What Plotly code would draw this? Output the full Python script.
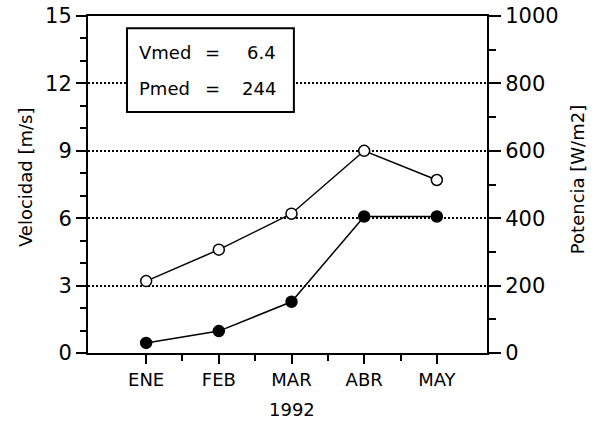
import plotly.graph_objects as go

months = ["ENE", "FEB", "MAR", "ABR", "MAY"]
month_pos = [1, 2, 3, 4, 5]
velocidad = [3.2, 4.6, 6.2, 9.0, 7.7]      # m/s, open circles, left axis
potencia = [30, 65, 152, 405, 405]          # W/m2, filled circles, right axis
vel_ticks = [0, 3, 6, 9, 12, 15]
pot_ticks = [0, 200, 400, 600, 800, 1000]
vmed = "6.4"
pmed = "244"
year = "1992"

FONT = "DejaVu Sans"
BLACK = "black"

fig = go.Figure()
fig.add_trace(go.Scatter(
    x=month_pos, y=velocidad, mode="lines+markers", yaxis="y",
    line=dict(color=BLACK, width=1.5),
    marker=dict(symbol="circle", size=11, color="white", line=dict(color=BLACK, width=1.5)),
    showlegend=False))
fig.add_trace(go.Scatter(
    x=month_pos, y=potencia, mode="lines+markers", yaxis="y2",
    line=dict(color=BLACK, width=1.5),
    marker=dict(symbol="circle", size=11, color=BLACK, line=dict(color=BLACK, width=1.5)),
    showlegend=False))

fig.update_layout(
    width=594, height=425,
    margin=dict(l=88, r=107, t=16, b=72, autoexpand=False),
    paper_bgcolor="white", plot_bgcolor="white",
    font=dict(family=FONT, color=BLACK),
    xaxis=dict(
        range=[0.2, 5.69], tickmode="array", tickvals=month_pos, ticktext=months,
        ticks="outside", ticklen=9, tickwidth=1.5, tickcolor=BLACK,
        minor=dict(tickvals=[1.5, 2.5, 3.5, 4.5], ticks="outside", ticklen=6,
                   tickwidth=1.5, tickcolor=BLACK, showgrid=False),
        showline=True, linecolor=BLACK, linewidth=2, mirror=True,
        showgrid=False, zeroline=False, automargin=False,
        tickfont=dict(size=18, family=FONT)),
    yaxis=dict(
        range=[0, 15], tickmode="array", tickvals=vel_ticks,
        ticks="outside", ticklen=10, tickwidth=1.5, tickcolor=BLACK,
        minor=dict(dtick=1, ticks="outside", ticklen=6, tickwidth=1.5,
                   tickcolor=BLACK, showgrid=False),
        showline=True, linecolor=BLACK, linewidth=2,
        showgrid=True, gridcolor=BLACK, gridwidth=1.5, griddash="2px,2px",
        zeroline=False, automargin=False, ticklabeloverflow="allow",
        tickfont=dict(size=21, family=FONT)),
    yaxis2=dict(
        range=[0, 1000], tickmode="array", tickvals=pot_ticks,
        overlaying="y", side="right",
        ticks="outside", ticklen=12, tickwidth=1.5, tickcolor=BLACK,
        minor=dict(dtick=100, ticks="outside", ticklen=7, tickwidth=1.5,
                   tickcolor=BLACK, showgrid=False),
        showline=True, linecolor=BLACK, linewidth=2,
        showgrid=False, zeroline=False, automargin=False, ticklabeloverflow="allow",
        tickfont=dict(size=21, family=FONT)),
)

# stats box
fig.add_shape(type="rect", xref="paper", yref="paper",
              x0=0.0977, x1=0.516, y0=0.715, y1=0.964,
              line=dict(color=BLACK, width=2), fillcolor="white", layer="above")
rows = [("Vmed", vmed, 0.893), ("Pmed", pmed, 0.786)]
for label, val, yy in rows:
    fig.add_annotation(xref="paper", yref="paper", x=0.122, y=yy, text=label,
                       showarrow=False, xanchor="left", yanchor="middle",
                       font=dict(size=18, family=FONT))
    fig.add_annotation(xref="paper", yref="paper", x=0.313, y=yy, text="=",
                       showarrow=False, xanchor="center", yanchor="middle",
                       font=dict(size=18, family=FONT))
    fig.add_annotation(xref="paper", yref="paper", x=0.475, y=yy, text=val,
                       showarrow=False, xanchor="right", yanchor="middle",
                       font=dict(size=18, family=FONT))

# axis titles
fig.add_annotation(xref="paper", yref="paper", x=-0.158, y=0.522,
                   text="Velocidad [m/s]", textangle=-90, showarrow=False,
                   xanchor="center", yanchor="middle", font=dict(size=18, family=FONT))
fig.add_annotation(xref="paper", yref="paper", x=1.2256, y=0.513,
                   text="Potencia [W/m2]", textangle=-90, showarrow=False,
                   xanchor="center", yanchor="middle", font=dict(size=18, family=FONT))
fig.add_annotation(xref="x", yref="paper", x=3, y=-0.169, text=year,
                   showarrow=False, xanchor="center", yanchor="middle",
                   font=dict(size=18, family=FONT))

# remove the default 8px page margin so the figure fills the window exactly
fig.write_html("out.html", config={"displayModeBar": False},
               post_script="document.body.style.margin='0';")
